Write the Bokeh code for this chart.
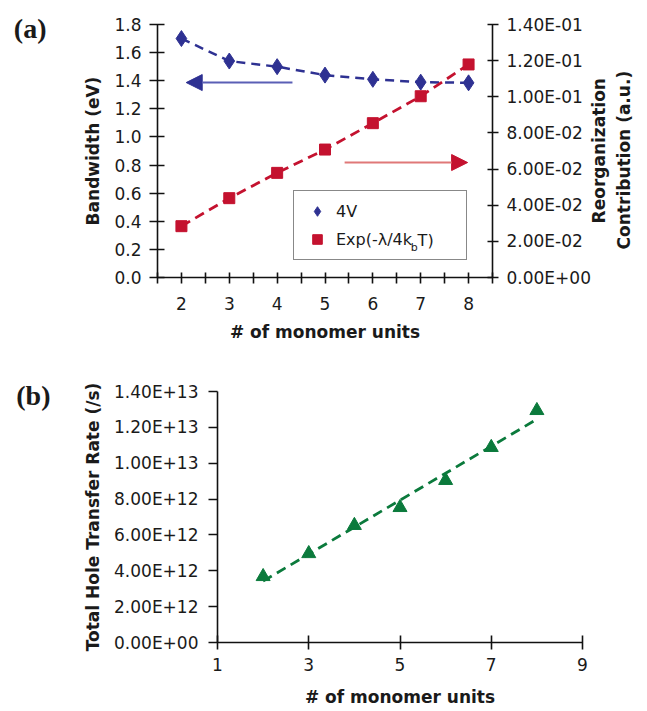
import math
import numpy as np
from bokeh.plotting import figure
from bokeh.models import (Range1d, LinearAxis, FixedTicker, PrintfTickFormatter,
                          CustomJSTickFormatter, Legend, LegendItem, Arrow,
                          NormalHead, ColumnDataSource)
from bokeh.core.properties import value
from bokeh.embed import file_html
from bokeh.resources import INLINE

# ---------------- data ----------------
units = [2, 3, 4, 5, 6, 7, 8]
bandwidth_4v = [1.70, 1.54, 1.50, 1.44, 1.41, 1.39, 1.385]
reorg_exp = [0.0284, 0.0439, 0.0579, 0.0708, 0.0854, 0.1003, 0.1179]
hole_rate = [3.68e12, 4.96e12, 6.53e12, 7.53e12, 9.04e12, 10.88e12, 12.94e12]

left_ticks_a = [0.0, 0.2, 0.4, 0.6, 0.8, 1.0, 1.2, 1.4, 1.6, 1.8]
right_ticks_a = [0.0, 0.02, 0.04, 0.06, 0.08, 0.10, 0.12, 0.14]
x_ticks_a = [2, 3, 4, 5, 6, 7, 8]
x_minor_a = [1.5, 2.5, 3.5, 4.5, 5.5, 6.5, 7.5, 8.5]
y_ticks_b = [0, 2e12, 4e12, 6e12, 8e12, 1e13, 1.2e13, 1.4e13]
x_ticks_b = [1, 3, 5, 7, 9]

BLUE = "#2e3192"
RED = "#c4122f"
GREEN = "#0b7a3c"
FONT = "DejaVu Sans"
TICK_SIZE = "17px"
LABEL_SIZE = "17px"
INK = "#1a1a1a"

EXP_FMT = """
const s = tick.toExponential(2).toUpperCase();
const parts = s.split("E");
let e = parseInt(parts[1]);
const sign = e < 0 ? "-" : "+";
e = Math.abs(e);
return parts[0] + "E" + sign + (e < 10 ? "0" : "") + e;
"""


def style_axis(ax, tin=6, tout=7):
    ax.axis_line_color = "#111111"
    ax.axis_line_width = 1.6
    ax.major_tick_line_color = "#111111"
    ax.major_tick_line_width = 1.6
    ax.major_tick_in = tin
    ax.major_tick_out = tout
    ax.minor_tick_line_color = "#111111"
    ax.minor_tick_line_width = 1.6
    ax.minor_tick_in = tin
    ax.minor_tick_out = tout
    ax.major_label_text_font = FONT
    ax.major_label_text_font_size = TICK_SIZE
    ax.major_label_text_color = INK
    ax.axis_label_text_font = FONT
    ax.axis_label_text_font_size = LABEL_SIZE
    ax.axis_label_text_font_style = "bold"
    ax.axis_label_text_color = INK


def text_axis(pos, text, standoff, font, size, style, orientation, y_range_name="default"):
    """An axis without line or ticks, used only to carry one piece of text."""
    ax = LinearAxis(y_range_name=y_range_name, ticker=FixedTicker(ticks=[pos], minor_ticks=[]),
                    major_label_overrides={pos: text})
    ax.axis_line_color = None
    ax.major_tick_line_color = None
    ax.minor_tick_line_color = None
    ax.major_tick_in = 0
    ax.major_tick_out = 0
    ax.major_label_standoff = standoff
    ax.major_label_text_font = font
    ax.major_label_text_font_size = size
    ax.major_label_text_font_style = style
    ax.major_label_text_color = INK
    ax.major_label_orientation = orientation
    return ax


# ---------------- panel (a) ----------------
pa = figure(width=647, height=346, output_backend="svg", toolbar_location=None,
            x_range=Range1d(1.5, 8.5), y_range=Range1d(0, 1.8),
            min_border_left=157, min_border_right=154, min_border_top=24,
            min_border_bottom=69)
pa.outline_line_color = None
pa.xgrid.visible = False
pa.ygrid.visible = False
pa.extra_y_ranges = {"r": Range1d(0, 0.14)}

pa.xaxis.ticker = FixedTicker(ticks=x_ticks_a, minor_ticks=x_minor_a)
pa.xaxis.axis_label = "# of monomer units"
pa.xaxis.major_label_standoff = 13
pa.xaxis.axis_label_standoff = 9
style_axis(pa.xaxis[0], 5, 6)

pa.yaxis.ticker = FixedTicker(ticks=left_ticks_a, minor_ticks=[])
pa.yaxis.formatter = PrintfTickFormatter(format="%.1f")
pa.yaxis.axis_label = "Bandwidth (eV)"
pa.yaxis.major_label_standoff = 8
pa.yaxis.axis_label_standoff = 8
style_axis(pa.yaxis[0], 7, 8)

# panel tag "(a)"
pa.add_layout(text_axis(1.775, "(a)", 34, "Liberation Serif", "28px", "bold", "horizontal"),
              "left")

raxis = LinearAxis(y_range_name="r", ticker=FixedTicker(ticks=right_ticks_a, minor_ticks=[]),
                   formatter=CustomJSTickFormatter(code=EXP_FMT))
raxis.major_label_standoff = 8
style_axis(raxis, 5, 6)
pa.add_layout(raxis, "right")

# right-hand axis title, two lines reading bottom-to-top (text starts at its tick)
pa.add_layout(text_axis(0.385, "Reorganization", 6, FONT, LABEL_SIZE, "bold", math.pi / 2),
              "right")
pa.add_layout(text_axis(0.20, "Contribution (a.u.)", 2, FONT, LABEL_SIZE, "bold", math.pi / 2),
              "right")

src_a = ColumnDataSource(dict(x=units, bw=bandwidth_4v, ex=reorg_exp))
pa.line("x", "bw", source=src_a, line_color=BLUE, line_width=2.5, line_dash="9 6")
r_blue = pa.scatter("x", "bw", source=src_a, marker="diamond", size=16,
                    fill_color=BLUE, line_color=BLUE)
pa.line("x", "ex", source=src_a, y_range_name="r", line_color=RED, line_width=2.8,
        line_dash="10 6")
r_red = pa.scatter("x", "ex", source=src_a, y_range_name="r", marker="square", size=11,
                   fill_color=RED, line_color=RED)

# arrows pointing to the axes
pa.add_layout(Arrow(end=NormalHead(size=16, fill_color=BLUE, line_color=BLUE),
                    x_start=4.32, y_start=1.387, x_end=2.10, y_end=1.387,
                    line_color="#5a5fb5", line_width=2))
pa.add_layout(Arrow(end=NormalHead(size=16, fill_color=RED, line_color=RED),
                    x_start=5.41, y_start=0.818, x_end=7.98, y_end=0.818,
                    line_color="#e07878", line_width=2))

leg = Legend(items=[LegendItem(label="4V", renderers=[r_blue]),
                    LegendItem(label="Exp(-λ/4k", renderers=[r_red])],
             location=(136, 17), orientation="vertical")
leg.padding = 8
leg.margin = 0
leg.spacing = 4
leg.glyph_width = 30
leg.glyph_height = 24
leg.label_standoff = 4
leg.label_width = 122
leg.label_height = 24
leg.label_text_font = FONT
leg.label_text_font_size = "16px"
leg.label_text_color = INK
leg.border_line_color = "#111111"
leg.border_line_width = 1.6
leg.background_fill_alpha = 0
pa.add_layout(leg)

# remainder of the legend label: subscript b and "T)"
pa.text(x=[6.79], y=[0.213], text=["b"], text_font=value(FONT), text_font_size="11px",
        text_color=INK, text_baseline="middle", text_align="left")
pa.text(x=[6.935], y=[0.263], text=["T)"], text_font=value(FONT), text_font_size="16px",
        text_color=INK, text_baseline="middle", text_align="left")

# ---------------- panel (b) ----------------
pb = figure(width=647, height=365, output_backend="svg", toolbar_location=None,
            x_range=Range1d(1, 9), y_range=Range1d(0, 1.4e13),
            min_border_left=217, min_border_right=65, min_border_top=45,
            min_border_bottom=69)
pb.outline_line_color = None
pb.xgrid.visible = False
pb.ygrid.visible = False

pb.xaxis.ticker = FixedTicker(ticks=x_ticks_b, minor_ticks=[])
pb.xaxis.axis_label = "# of monomer units"
pb.xaxis.major_label_standoff = 8
pb.xaxis.axis_label_standoff = 13
style_axis(pb.xaxis[0], 7, 7)

pb.yaxis.ticker = FixedTicker(ticks=y_ticks_b, minor_ticks=[])
pb.yaxis.formatter = CustomJSTickFormatter(code=EXP_FMT)
pb.yaxis.axis_label = "Total Hole Transfer Rate (/s)"
pb.yaxis.major_label_standoff = 10
pb.yaxis.axis_label_standoff = 8
style_axis(pb.yaxis[0], 0, 9)

pb.add_layout(text_axis(1.38e13, "(b)", 30, "Liberation Serif", "28px", "bold", "horizontal"),
              "left")

slope, intercept = np.polyfit(units, hole_rate, 1)
fit_x = [units[0], units[-1]]
fit_y = [slope * units[0] + intercept, slope * units[-1] + intercept]
pb.line(fit_x, fit_y, line_color=GREEN, line_width=2.8, line_dash="10 6")
pb.scatter(units, hole_rate, marker="triangle", size=14, fill_color=GREEN, line_color=GREEN)

open("out.html", "w").write(file_html([pa, pb], INLINE))
